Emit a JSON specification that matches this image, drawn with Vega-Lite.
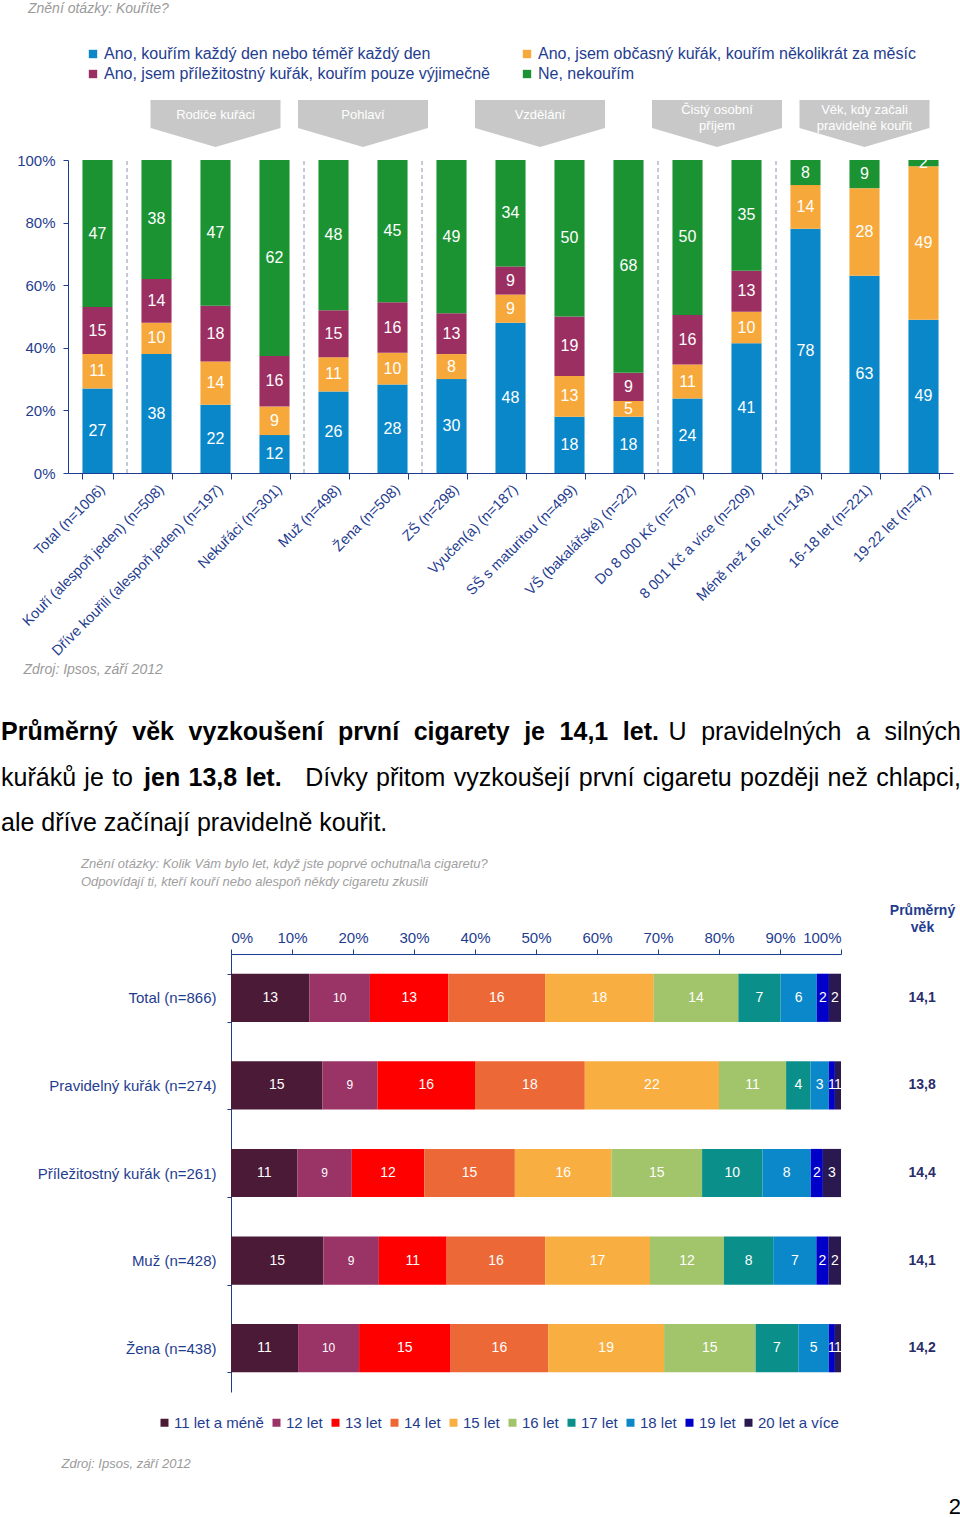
{
  "$schema": "https://vega.github.io/schema/vega-lite/v6.json",
  "padding": {"left": 0, "right": 0, "top": 2, "bottom": 0},
  "background": "white",
  "spacing": 0,
  "resolve": {"scale": {"color": "independent"}, "legend": {"color": "independent"}},
  "config": {
    "font": "Liberation Sans",
    "view": {"stroke": null},
    "concat": {"spacing": 0}
  },
  "title": {"text": "2", "orient": "bottom", "anchor": "end", "fontSize": 22, "fontWeight": "normal", "color": "#000000", "offset": 27},
  "datasets": {
    "smoke": [
      {"cat": "Total (n=1006)", "resp": "Ano, kouřím každý den nebo téměř každý den", "value": 27},
      {"cat": "Total (n=1006)", "resp": "Ano, jsem občasný kuřák, kouřím několikrát za měsíc", "value": 11},
      {"cat": "Total (n=1006)", "resp": "Ano, jsem příležitostný  kuřák, kouřím pouze výjimečně", "value": 15},
      {"cat": "Total (n=1006)", "resp": "Ne, nekouřím", "value": 47},
      {"cat": "Kouří (alespoň jeden) (n=508)", "resp": "Ano, kouřím každý den nebo téměř každý den", "value": 38},
      {"cat": "Kouří (alespoň jeden) (n=508)", "resp": "Ano, jsem občasný kuřák, kouřím několikrát za měsíc", "value": 10},
      {"cat": "Kouří (alespoň jeden) (n=508)", "resp": "Ano, jsem příležitostný  kuřák, kouřím pouze výjimečně", "value": 14},
      {"cat": "Kouří (alespoň jeden) (n=508)", "resp": "Ne, nekouřím", "value": 38},
      {"cat": "Dříve kouřili (alespoň jeden) (n=197)", "resp": "Ano, kouřím každý den nebo téměř každý den", "value": 22},
      {"cat": "Dříve kouřili (alespoň jeden) (n=197)", "resp": "Ano, jsem občasný kuřák, kouřím několikrát za měsíc", "value": 14},
      {"cat": "Dříve kouřili (alespoň jeden) (n=197)", "resp": "Ano, jsem příležitostný  kuřák, kouřím pouze výjimečně", "value": 18},
      {"cat": "Dříve kouřili (alespoň jeden) (n=197)", "resp": "Ne, nekouřím", "value": 47},
      {"cat": "Nekuřáci (n=301)", "resp": "Ano, kouřím každý den nebo téměř každý den", "value": 12},
      {"cat": "Nekuřáci (n=301)", "resp": "Ano, jsem občasný kuřák, kouřím několikrát za měsíc", "value": 9},
      {"cat": "Nekuřáci (n=301)", "resp": "Ano, jsem příležitostný  kuřák, kouřím pouze výjimečně", "value": 16},
      {"cat": "Nekuřáci (n=301)", "resp": "Ne, nekouřím", "value": 62},
      {"cat": "Muž (n=498)", "resp": "Ano, kouřím každý den nebo téměř každý den", "value": 26},
      {"cat": "Muž (n=498)", "resp": "Ano, jsem občasný kuřák, kouřím několikrát za měsíc", "value": 11},
      {"cat": "Muž (n=498)", "resp": "Ano, jsem příležitostný  kuřák, kouřím pouze výjimečně", "value": 15},
      {"cat": "Muž (n=498)", "resp": "Ne, nekouřím", "value": 48},
      {"cat": "Žena (n=508)", "resp": "Ano, kouřím každý den nebo téměř každý den", "value": 28},
      {"cat": "Žena (n=508)", "resp": "Ano, jsem občasný kuřák, kouřím několikrát za měsíc", "value": 10},
      {"cat": "Žena (n=508)", "resp": "Ano, jsem příležitostný  kuřák, kouřím pouze výjimečně", "value": 16},
      {"cat": "Žena (n=508)", "resp": "Ne, nekouřím", "value": 45},
      {"cat": "ZŠ (n=298)", "resp": "Ano, kouřím každý den nebo téměř každý den", "value": 30},
      {"cat": "ZŠ (n=298)", "resp": "Ano, jsem občasný kuřák, kouřím několikrát za měsíc", "value": 8},
      {"cat": "ZŠ (n=298)", "resp": "Ano, jsem příležitostný  kuřák, kouřím pouze výjimečně", "value": 13},
      {"cat": "ZŠ (n=298)", "resp": "Ne, nekouřím", "value": 49},
      {"cat": "Vyučen(a) (n=187)", "resp": "Ano, kouřím každý den nebo téměř každý den", "value": 48},
      {"cat": "Vyučen(a) (n=187)", "resp": "Ano, jsem občasný kuřák, kouřím několikrát za měsíc", "value": 9},
      {"cat": "Vyučen(a) (n=187)", "resp": "Ano, jsem příležitostný  kuřák, kouřím pouze výjimečně", "value": 9},
      {"cat": "Vyučen(a) (n=187)", "resp": "Ne, nekouřím", "value": 34},
      {"cat": "SŠ s maturitou (n=499)", "resp": "Ano, kouřím každý den nebo téměř každý den", "value": 18},
      {"cat": "SŠ s maturitou (n=499)", "resp": "Ano, jsem občasný kuřák, kouřím několikrát za měsíc", "value": 13},
      {"cat": "SŠ s maturitou (n=499)", "resp": "Ano, jsem příležitostný  kuřák, kouřím pouze výjimečně", "value": 19},
      {"cat": "SŠ s maturitou (n=499)", "resp": "Ne, nekouřím", "value": 50},
      {"cat": "VŠ (bakalářské) (n=22)", "resp": "Ano, kouřím každý den nebo téměř každý den", "value": 18},
      {"cat": "VŠ (bakalářské) (n=22)", "resp": "Ano, jsem občasný kuřák, kouřím několikrát za měsíc", "value": 5},
      {"cat": "VŠ (bakalářské) (n=22)", "resp": "Ano, jsem příležitostný  kuřák, kouřím pouze výjimečně", "value": 9},
      {"cat": "VŠ (bakalářské) (n=22)", "resp": "Ne, nekouřím", "value": 68},
      {"cat": "Do 8 000 Kč (n=797)", "resp": "Ano, kouřím každý den nebo téměř každý den", "value": 24},
      {"cat": "Do 8 000 Kč (n=797)", "resp": "Ano, jsem občasný kuřák, kouřím několikrát za měsíc", "value": 11},
      {"cat": "Do 8 000 Kč (n=797)", "resp": "Ano, jsem příležitostný  kuřák, kouřím pouze výjimečně", "value": 16},
      {"cat": "Do 8 000 Kč (n=797)", "resp": "Ne, nekouřím", "value": 50},
      {"cat": "8 001 Kč a více (n=209)", "resp": "Ano, kouřím každý den nebo téměř každý den", "value": 41},
      {"cat": "8 001 Kč a více (n=209)", "resp": "Ano, jsem občasný kuřák, kouřím několikrát za měsíc", "value": 10},
      {"cat": "8 001 Kč a více (n=209)", "resp": "Ano, jsem příležitostný  kuřák, kouřím pouze výjimečně", "value": 13},
      {"cat": "8 001 Kč a více (n=209)", "resp": "Ne, nekouřím", "value": 35},
      {"cat": "Méně než 16 let (n=143)", "resp": "Ano, kouřím každý den nebo téměř každý den", "value": 78},
      {"cat": "Méně než 16 let (n=143)", "resp": "Ano, jsem občasný kuřák, kouřím několikrát za měsíc", "value": 14},
      {"cat": "Méně než 16 let (n=143)", "resp": "Ne, nekouřím", "value": 8},
      {"cat": "16-18 let (n=221)", "resp": "Ano, kouřím každý den nebo téměř každý den", "value": 63},
      {"cat": "16-18 let (n=221)", "resp": "Ano, jsem občasný kuřák, kouřím několikrát za měsíc", "value": 28},
      {"cat": "16-18 let (n=221)", "resp": "Ne, nekouřím", "value": 9},
      {"cat": "19-22 let (n=47)", "resp": "Ano, kouřím každý den nebo téměř každý den", "value": 49},
      {"cat": "19-22 let (n=47)", "resp": "Ano, jsem občasný kuřák, kouřím několikrát za měsíc", "value": 49},
      {"cat": "19-22 let (n=47)", "resp": "Ne, nekouřím", "value": 2}
    ],
    "groups": [
      {"group": "Rodiče kuřáci", "start": 1, "end": 4, "lines": 1},
      {"group": "Pohlaví", "start": 4, "end": 6, "lines": 1},
      {"group": "Vzdělání", "start": 6, "end": 10, "lines": 1},
      {"group": "Čistý osobní\npříjem", "start": 10, "end": 12, "lines": 2},
      {"group": "Věk, kdy začali\npravidelně kouřit", "start": 12, "end": 15, "lines": 2}
    ],
    "para": [
      {"line": "1", "kind": "boldStart", "text": "Průměrný\u2004\u2005věk\u2004\u2005vyzkoušení\u2004\u2005první\u2004\u2005cigarety\u2004\u2005je\u2004\u200514,1\u2004\u2005let."},
      {"line": "1", "kind": "regRight", "text": "U\u2004\u2005pravidelných\u2004\u2005a\u2004\u2005silných"},
      {"line": "2", "kind": "regLeft", "text": "kuřáků\u2004je\u2004to"},
      {"line": "2", "kind": "boldMid", "text": "jen\u200413,8\u2004let."},
      {"line": "2", "kind": "regRight", "text": "Dívky\u2004přitom\u2004vyzkoušejí\u2004první\u2004cigaretu\u2004později\u2004než\u2004chlapci,"},
      {"line": "3", "kind": "regLeft", "text": "ale dříve začínají pravidelně kouřit."}
    ],
    "age": [
      {"cat": "Total (n=866)", "avg": "14,1", "11 let a méně": 13, "12 let": 10, "13 let": 13, "14 let": 16, "15 let": 18, "16 let": 14, "17 let": 7, "18 let": 6, "19 let": 2, "20 let a více": 2},
      {"cat": "Pravidelný kuřák (n=274)", "avg": "13,8", "11 let a méně": 15, "12 let": 9, "13 let": 16, "14 let": 18, "15 let": 22, "16 let": 11, "17 let": 4, "18 let": 3, "19 let": 1, "20 let a více": 1},
      {"cat": "Příležitostný kuřák (n=261)", "avg": "14,4", "11 let a méně": 11, "12 let": 9, "13 let": 12, "14 let": 15, "15 let": 16, "16 let": 15, "17 let": 10, "18 let": 8, "19 let": 2, "20 let a více": 3},
      {"cat": "Muž (n=428)", "avg": "14,1", "11 let a méně": 15, "12 let": 9, "13 let": 11, "14 let": 16, "15 let": 17, "16 let": 12, "17 let": 8, "18 let": 7, "19 let": 2, "20 let a více": 2},
      {"cat": "Žena (n=438)", "avg": "14,2", "11 let a méně": 11, "12 let": 10, "13 let": 15, "14 let": 16, "15 let": 19, "16 let": 15, "17 let": 7, "18 let": 5, "19 let": 1, "20 let a více": 1}
    ]
  },
  "vconcat": [
    {
      "width": 952,
      "height": 313,
      "title": {"text": "Znění otázky: Kouříte?", "anchor": "start", "frame": "group", "dx": 27, "fontSize": 14, "fontStyle": "italic", "fontWeight": "normal", "color": "#9a9a9a", "offset": 30},
      "resolve": {"scale": {"x": "independent"}},
      "layer": [
        {
          "data": {"name": "smoke"},
          "transform": [
            {"calculate": "indexof(['Ano, kouřím každý den nebo téměř každý den','Ano, jsem občasný kuřák, kouřím několikrát za měsíc','Ano, jsem příležitostný  kuřák, kouřím pouze výjimečně','Ne, nekouřím'], datum.resp)", "as": "o"},
            {"stack": "value", "groupby": ["cat"], "sort": [{"field": "o", "order": "ascending"}], "offset": "normalize", "as": ["y0", "y1"]},
            {"calculate": "(datum.y0 + datum.y1) / 2", "as": "ym"}
          ],
          "encoding": {
            "x": {
              "field": "cat", "type": "nominal", "sort": null,
              "scale": {"paddingInner": 0.49, "paddingOuter": 0.245, "range": [67, 952]},
              "axis": {
                "labelAngle": -45, "labelFontSize": 14.5, "labelColor": "#1f3d8f", "labelPadding": 3,
                "tickBand": "extent", "tickSize": 6, "tickColor": "#1f3d8f", "domainColor": "#1f3d8f",
                "title": "Zdroj: Ipsos, září 2012", "titleX": 22, "titleY": 196, "titleAlign": "left", "titleBaseline": "middle",
                "titleFontSize": 14, "titleFontStyle": "italic", "titleFontWeight": "normal", "titleColor": "#9a9a9a", "labelLimit": 400
              }
            }
          },
          "layer": [
            {
              "mark": {"type": "bar"},
              "encoding": {
                "y": {
                  "field": "y0", "type": "quantitative", "scale": {"domain": [0, 1]},
                  "axis": {"offset": -67, "values": [0, 0.2, 0.4, 0.6, 0.8, 1], "format": ".0%", "labelFontSize": 15, "labelColor": "#1f3d8f", "tickColor": "#1f3d8f", "domainColor": "#1f3d8f", "tickSize": 5, "labelPadding": 8, "grid": false, "title": null}
                },
                "y2": {"field": "y1"},
                "color": {
                  "field": "resp", "type": "nominal",
                  "scale": {
                    "domain": ["Ano, kouřím každý den nebo téměř každý den", "Ano, jsem občasný kuřák, kouřím několikrát za měsíc", "Ano, jsem příležitostný  kuřák, kouřím pouze výjimečně", "Ne, nekouřím"],
                    "range": ["#0a87c9", "#f7a83a", "#9c2f62", "#1c9333"]
                  },
                  "legend": {"orient": "none", "legendX": 84, "legendY": -114, "columns": 2, "direction": "horizontal", "title": null, "padding": 0, "symbolType": "square", "symbolSize": 70, "symbolStrokeWidth": 0, "labelFontSize": 16, "labelColor": "#1f3d8f", "columnPadding": 24, "rowPadding": 4, "labelOffset": 3, "labelLimit": 600}
                }
              }
            },
            {
              "mark": {"type": "text", "color": "white", "fontSize": 16, "baseline": "middle"},
              "encoding": {
                "y": {"field": "ym", "type": "quantitative"},
                "text": {"field": "value", "type": "quantitative"}
              }
            }
          ]
        },
        {
          "data": {"name": "groups"},
          "transform": [{"calculate": "(datum.start + datum.end) / 2", "as": "mid"}],
          "layer": [
            {
              "mark": {"type": "rule", "color": "#8a94b0", "strokeDash": [4, 3], "strokeWidth": 1},
              "encoding": {
                "x": {"field": "start", "type": "quantitative", "scale": {"domain": [0, 15], "range": [67, 952]}, "axis": null},
                "y": {"datum": 0},
                "y2": {"datum": 1}
              }
            },
            {
              "mark": {"type": "point", "shape": "M-1,-0.36L1,-0.36L1,0.07L0,0.36L-1,0.07Z", "filled": true, "opacity": 1, "color": "#c8c8c8", "strokeWidth": 0, "size": 16900},
              "encoding": {
                "x": {"field": "mid", "type": "quantitative", "scale": {"domain": [0, 15], "range": [67, 952]}, "axis": null},
                "y": {"datum": 1.1166}
              }
            },
            {
              "transform": [{"filter": "datum.lines == 1"}],
              "mark": {"type": "text", "color": "white", "fontSize": 13, "baseline": "middle"},
              "encoding": {
                "x": {"field": "mid", "type": "quantitative", "scale": {"domain": [0, 15], "range": [67, 952]}, "axis": null},
                "y": {"datum": 1.1438},
                "text": {"field": "group"}
              }
            },
            {
              "transform": [{"filter": "datum.lines == 2"}],
              "mark": {"type": "text", "color": "white", "fontSize": 13, "lineBreak": "\n", "lineHeight": 16, "baseline": "middle"},
              "encoding": {
                "x": {"field": "mid", "type": "quantitative", "scale": {"domain": [0, 15], "range": [67, 952]}, "axis": null},
                "y": {"datum": 1.1613},
                "text": {"field": "group"}
              }
            }
          ]
        }
      ]
    },
    {
      "width": 960,
      "height": 182,
      "data": {"name": "para"},
      "encoding": {
        "y": {"field": "line", "type": "ordinal", "scale": {"type": "point", "padding": 1.045, "align": 0.62}, "axis": null}
      },
      "layer": [
        {
          "transform": [{"filter": "datum.kind == 'boldStart'"}],
          "mark": {"type": "text", "align": "left", "baseline": "middle", "fontSize": 25, "fontWeight": "bold", "color": "#000000"},
          "encoding": {"x": {"datum": 0, "type": "quantitative", "scale": {"domain": [0, 1]}, "axis": null}, "text": {"field": "text"}}
        },
        {
          "transform": [{"filter": "datum.kind == 'boldMid'"}],
          "mark": {"type": "text", "align": "left", "baseline": "middle", "fontSize": 25, "fontWeight": "bold", "color": "#000000"},
          "encoding": {"x": {"datum": 0.149, "type": "quantitative"}, "text": {"field": "text"}}
        },
        {
          "transform": [{"filter": "datum.kind == 'regLeft'"}],
          "mark": {"type": "text", "align": "left", "baseline": "middle", "fontSize": 25, "color": "#000000"},
          "encoding": {"x": {"datum": 0, "type": "quantitative"}, "text": {"field": "text"}}
        },
        {
          "transform": [{"filter": "datum.kind == 'regRight'"}],
          "mark": {"type": "text", "align": "right", "baseline": "middle", "fontSize": 25, "color": "#000000"},
          "encoding": {"x": {"datum": 1, "type": "quantitative"}, "text": {"field": "text"}}
        }
      ]
    },
    {
      "width": 840,
      "height": 438,
      "title": {
        "text": ["Znění otázky: Kolik Vám bylo let, když jste poprvé ochutnal\\a cigaretu?", "Odpovídají ti, kteří kouří nebo alespoň někdy cigaretu zkusili"],
        "anchor": "start", "frame": "group", "dx": 80, "fontSize": 13, "fontStyle": "italic", "fontWeight": "normal", "color": "#a0a0a0", "lineHeight": 18, "offset": 14
      },
      "data": {"name": "age"},
      "encoding": {
        "y": {
          "field": "cat", "type": "nominal", "sort": null,
          "scale": {"paddingInner": 0.45, "paddingOuter": 0.225},
          "axis": {
            "offset": -230,
            "labelFontSize": 15, "labelColor": "#1f3d8f", "labelPadding": 11, "tickBand": "extent", "tickSize": 4,
            "tickColor": "#1f3d8f", "domainColor": "#1f3d8f", "grid": false,
            "title": "Zdroj: Ipsos, září 2012", "titleAngle": 0, "titleX": -170, "titleY": 509, "titleAlign": "left", "titleBaseline": "middle",
            "titleFontSize": 13, "titleFontStyle": "italic", "titleFontWeight": "normal", "titleColor": "#9a9a9a"
          }
        }
      },
      "layer": [
        {
          "transform": [
            {"fold": ["11 let a méně", "12 let", "13 let", "14 let", "15 let", "16 let", "17 let", "18 let", "19 let", "20 let a více"], "as": ["age", "value"]},
            {"calculate": "indexof(['11 let a méně','12 let','13 let','14 let','15 let','16 let','17 let','18 let','19 let','20 let a více'], datum.age)", "as": "o"},
            {"stack": "value", "groupby": ["cat"], "sort": [{"field": "o", "order": "ascending"}], "offset": "normalize", "as": ["x0", "x1"]},
            {"calculate": "(datum.x0 + datum.x1) / 2", "as": "xm"}
          ],
          "layer": [
            {
              "mark": {"type": "bar"},
              "encoding": {
                "x": {
                  "field": "x0", "type": "quantitative", "scale": {"domain": [0, 1], "range": [230, 840]},
                  "axis": {
                    "orient": "top", "values": [0, 0.1, 0.2, 0.3, 0.4, 0.5, 0.6, 0.7, 0.8, 0.9, 1], "format": ".0%",
                    "labelFontSize": 15, "labelColor": "#1f3d8f", "tickSize": 5, "labelPadding": 4, "tickColor": "#1f3d8f", "domainColor": "#1f3d8f", "grid": false,
                    "title": ["Průměrný", "věk"], "titleX": 921, "titleY": -51, "titleAlign": "center", "titleBaseline": "top",
                    "titleFontSize": 14, "titleFontWeight": "bold", "titleColor": "#1f3d8f", "titleLineHeight": 17
                  }
                },
                "x2": {"field": "x1"},
                "color": {
                  "field": "age", "type": "nominal",
                  "scale": {
                    "domain": ["11 let a méně", "12 let", "13 let", "14 let", "15 let", "16 let", "17 let", "18 let", "19 let", "20 let a více"],
                    "range": ["#4b1a36", "#9a3366", "#fe0000", "#ec6837", "#f9ae42", "#a2c46a", "#0b8f8b", "#0a88c9", "#0000c8", "#2a1850"]
                  },
                  "legend": {"orient": "none", "legendX": 156, "legendY": 461, "columns": 10, "direction": "horizontal", "title": null, "padding": 0, "symbolType": "square", "symbolSize": 64, "symbolStrokeWidth": 0, "labelFontSize": 15, "labelColor": "#1f3d8f", "columnPadding": 5, "labelOffset": 2}
                }
              }
            },
            {
              "mark": {"type": "text", "color": "white", "baseline": "middle"},
              "encoding": {
                "x": {"field": "xm", "type": "quantitative"},
                "text": {"field": "value", "type": "quantitative"},
                "size": {"condition": {"test": "datum.age == '12 let'", "value": 12}, "value": 14}
              }
            }
          ]
        },
        {
          "mark": {"type": "text", "fontWeight": "bold", "fontSize": 14, "color": "#2b2d6b", "baseline": "middle"},
          "encoding": {
            "x": {"datum": 1.133, "type": "quantitative"},
            "text": {"field": "avg"}
          }
        }
      ]
    }
  ]
}
